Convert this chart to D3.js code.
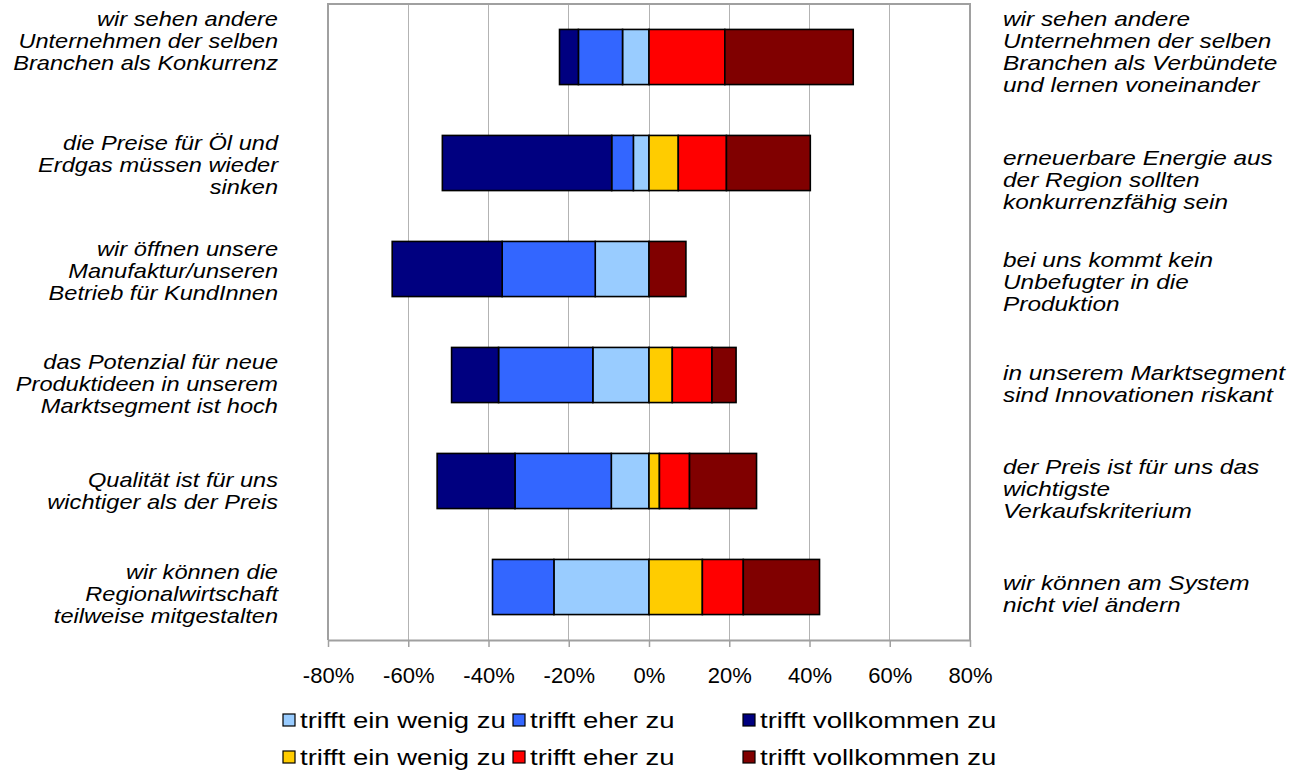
<!DOCTYPE html>
<html><head><meta charset="utf-8">
<script src="https://cdn.jsdelivr.net/npm/d3@7"></script>
<style>
html,body{margin:0;padding:0;background:#fff;}
svg{display:block;font-family:"Liberation Sans",Arial,sans-serif;}
</style></head>
<body><svg id="c" width="1297" height="773"></svg>
<script>
// ---- data ----
const categories = ["r1","r2","r3","r4","r5","r6"];
const leftLabels = [
  ["wir sehen andere","Unternehmen der selben","Branchen als Konkurrenz"],
  ["die Preise für Öl und","Erdgas müssen wieder","sinken"],
  ["wir öffnen unsere","Manufaktur/unseren","Betrieb für KundInnen"],
  ["das Potenzial für neue","Produktideen in unserem","Marktsegment ist hoch"],
  ["Qualität ist für uns","wichtiger als der Preis"],
  ["wir können die","Regionalwirtschaft","teilweise mitgestalten"]
];
const rightLabels = [
  ["wir sehen andere","Unternehmen der selben","Branchen als Verbündete","und lernen voneinander"],
  ["erneuerbare Energie aus","der Region sollten","konkurrenzfähig sein"],
  ["bei uns kommt kein","Unbefugter in die","Produktion"],
  ["in unserem Marktsegment","sind Innovationen riskant"],
  ["der Preis ist für uns das","wichtigste","Verkaufskriterium"],
  ["wir können am System","nicht viel ändern"]
];
// left side (negative) series, in %
const linksEinWenig    = [6.6, 3.9, 13.4, 14.0, 9.4, 23.7];
const linksEher        = [11.0, 5.4, 23.2, 23.5, 24.0, 15.3];
const linksVollkommen  = [4.7, 42.2, 27.4, 11.7, 19.4, 0];
// right side (positive) series, in %
const rechtsEinWenig   = [0, 7.3, 0, 5.8, 2.6, 13.3];
const rechtsEher       = [18.9, 12.0, 0, 9.9, 7.5, 10.2];
const rechtsVollkommen = [32.0, 20.9, 9.2, 6.0, 16.7, 19.0];
const seriesNames = ["trifft ein wenig zu","trifft eher zu","trifft vollkommen zu",
                     "trifft ein wenig zu","trifft eher zu","trifft vollkommen zu"];
const tickValues = [-80,-60,-40,-20,0,20,40,60,80];
const tickLabels = ["-80%","-60%","-40%","-20%","0%","20%","40%","60%","80%"];

// ---- layout ----
const colors = ["#99ccff","#3366ff","#000080","#ffcc00","#ff0000","#800000"];
const P = {l:328, r:970, t:4, b:640};
const shiftL = [-16, 2, 2, 9, 10, 7];
const shiftR = [-5, 17, 13, 9, 8, 7];
const lineH = 22;
const FS = 20;

const svg = d3.select("#c");
const x = d3.scaleLinear().domain([-80,80]).range([P.l,P.r]);
const y = d3.scaleBand().domain(categories).range([P.t,P.b]).paddingInner(0.48).paddingOuter(0.24);

// grid
svg.append("g").selectAll("line").data(tickValues.slice(1,-1)).join("line")
  .attr("x1",d=>x(d)).attr("x2",d=>x(d)).attr("y1",P.t).attr("y2",P.b)
  .attr("stroke","#b3b3b3").attr("stroke-width",1).attr("shape-rendering","crispEdges");
// plot frame (left, top, right)
svg.append("path").attr("d",`M${P.l},${P.b}V${P.t}H${P.r}V${P.b}`)
  .attr("fill","none").attr("stroke","#a0a0a0").attr("stroke-width",2);

// stacked bars
const keys = ["lw","le","lv","rw","re","rv"];
const rows = categories.map((c,i)=>({cat:c,
  lw:-linksEinWenig[i], le:-linksEher[i], lv:-linksVollkommen[i],
  rw:rechtsEinWenig[i], re:rechtsEher[i], rv:rechtsVollkommen[i]}));
const stack = d3.stack().keys(keys).offset(d3.stackOffsetDiverging)(rows);
const gBars = svg.append("g");
stack.forEach((s,k)=>{
  gBars.append("g").attr("fill",colors[k]).selectAll("rect").data(s.filter(d=>d[1]-d[0]!==0)).join("rect")
    .attr("x",d=>x(Math.min(d[0],d[1])))
    .attr("width",d=>Math.abs(x(d[1])-x(d[0])))
    .attr("y",d=>y(d.data.cat)).attr("height",y.bandwidth())
    .attr("stroke","#000").attr("stroke-width",1.6);
});

// x axis
const axis = d3.axisBottom(x).tickValues(tickValues).tickFormat((d,i)=>tickLabels[i]).tickSize(7).tickSizeOuter(0).tickPadding(20);
const ga = svg.append("g").attr("transform",`translate(0,${P.b})`).call(axis);
ga.select(".domain").attr("stroke","#a0a0a0").attr("stroke-width",2);
ga.selectAll(".tick line").attr("stroke","#a0a0a0").attr("stroke-width",1.5);
ga.selectAll(".tick text").attr("font-size",22).attr("fill","#000").attr("font-family","Liberation Sans, Arial, sans-serif");

// category labels (horizontally stretched like the original rendering)
function labels(arr, shifts, xPos, anchor, sx){
  const g = svg.append("g").attr("font-style","italic").attr("font-size",FS).attr("text-anchor",anchor)
    .attr("transform",`translate(${xPos},0) scale(${sx},1)`);
  arr.forEach((lines,i)=>{
    const cy = y(categories[i]) + y.bandwidth()/2 + shifts[i];
    const y0 = cy - (lines.length-1)*lineH/2;
    const t = g.append("text");
    lines.forEach((ln,j)=>{
      t.append("tspan").attr("x",0).attr("y",y0 + j*lineH).attr("dy","0.35em").text(ln);
    });
  });
}
labels(leftLabels, shiftL, 278, "end", 1.18);
labels(rightLabels, shiftR, 1003, "start", 1.22);

// legend
const legX = [283, 513, 743];
const legY = [720, 757];
const lg = svg.append("g").attr("font-size",22);
seriesNames.forEach((n,k)=>{
  const gx = legX[k%3], gy = legY[Math.floor(k/3)];
  lg.append("rect").attr("x",gx).attr("y",gy-6).attr("width",12).attr("height",12)
    .attr("fill",colors[k]).attr("stroke","#000").attr("stroke-width",1.2);
  lg.append("text").attr("transform",`translate(${gx+17},${gy}) scale(1.25,1)`).attr("dy","0.35em").text(n);
});
</script></body></html>
